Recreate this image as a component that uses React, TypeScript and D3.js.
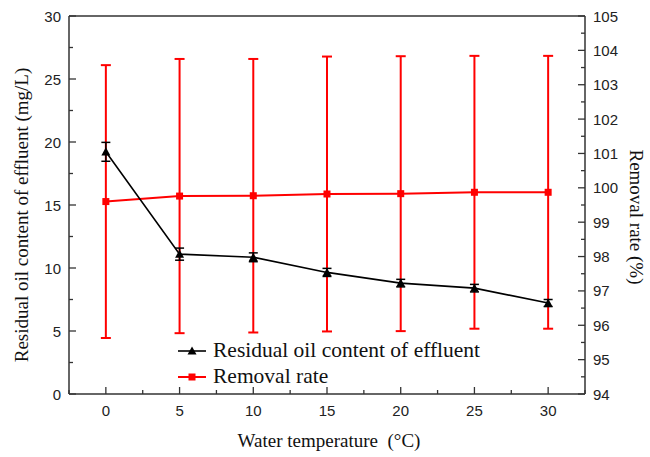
import React from 'react';
import * as d3 from 'd3';

const temperatures = [0, 5, 10, 15, 20, 25, 30];
const residualOil = [19.22, 11.1, 10.85, 9.65, 8.8, 8.4, 7.22];
const residualErr = [0.75, 0.48, 0.35, 0.32, 0.3, 0.3, 0.28];
const removalRate = [99.6, 99.76, 99.77, 99.82, 99.83, 99.87, 99.87];
const removalErr = [3.97, 3.99, 3.98, 4.0, 4.0, 3.97, 3.97];

const xTicks = [0, 5, 10, 15, 20, 25, 30];
const xMinor = [-2.5, 2.5, 7.5, 12.5, 17.5, 22.5, 27.5, 32.5];
const leftTicks = [0, 5, 10, 15, 20, 25, 30];
const leftMinor = [2.5, 7.5, 12.5, 17.5, 22.5, 27.5];
const rightTicks = [94, 95, 96, 97, 98, 99, 100, 101, 102, 103, 104, 105];
const rightMinor = [94.5, 95.5, 96.5, 97.5, 98.5, 99.5, 100.5, 101.5, 102.5, 103.5, 104.5];

const seriesNames = ['Residual oil content of effluent', 'Removal rate'];
const xTitle = 'Water temperature  (°C)';
const leftTitle = 'Residual oil content of effluent (mg/L)';
const rightTitle = 'Removal rate (%)';

const L = 69, R = 585, T = 16, B = 394;
const RED = '#ff0000';
const sans = '"Liberation Sans", Arial, sans-serif';
const serif = '"Liberation Serif", "Times New Roman", serif';

export default function App() {
  const x = d3.scaleLinear().domain([-2.5, 32.5]).range([L, R]);
  const yL = d3.scaleLinear().domain([0, 30]).range([B, T]);
  const yR = d3.scaleLinear().domain([94, 105]).range([B, T]);

  const lineL = d3.line<number>().x((_, i) => x(temperatures[i])).y((d) => yL(d));
  const lineR = d3.line<number>().x((_, i) => x(temperatures[i])).y((d) => yR(d));

  const tri = (cx: number, cy: number, s = 4.5) =>
    `M${cx},${cy - s} L${cx + s},${cy + s * 0.8} L${cx - s},${cy + s * 0.8} Z`;

  return (
    <svg width={650} height={457} style={{ position: 'absolute', left: 0, top: 0, background: '#fff' }}>
      <rect x={0} y={0} width={650} height={457} fill="#fff" />
      {/* red series */}
      <g>
        {removalRate.map((v, i) => {
          const cx = x(temperatures[i]);
          const y1 = yR(v + removalErr[i]);
          const y2 = yR(v - removalErr[i]);
          return (
            <g key={'re' + i} stroke={RED} strokeWidth={2}>
              <line x1={cx} x2={cx} y1={y1} y2={y2} />
              <line x1={cx - 5} x2={cx + 5} y1={y1} y2={y1} />
              <line x1={cx - 5} x2={cx + 5} y1={y2} y2={y2} />
            </g>
          );
        })}
        <path d={lineR(removalRate) || ''} fill="none" stroke={RED} strokeWidth={2} />
        {removalRate.map((v, i) => (
          <rect key={'rm' + i} x={x(temperatures[i]) - 3.5} y={yR(v) - 3.5} width={7} height={7} fill={RED} />
        ))}
      </g>
      {/* black series */}
      <g>
        {residualOil.map((v, i) => {
          const cx = x(temperatures[i]);
          const y1 = yL(v + residualErr[i]);
          const y2 = yL(v - residualErr[i]);
          return (
            <g key={'be' + i} stroke="#000" strokeWidth={1.5}>
              <line x1={cx} x2={cx} y1={y1} y2={y2} />
              <line x1={cx - 4.5} x2={cx + 4.5} y1={y1} y2={y1} />
              <line x1={cx - 4.5} x2={cx + 4.5} y1={y2} y2={y2} />
            </g>
          );
        })}
        <path d={lineL(residualOil) || ''} fill="none" stroke="#000" strokeWidth={1.6} />
        {residualOil.map((v, i) => (
          <path key={'bm' + i} d={tri(x(temperatures[i]), yL(v))} fill="#000" />
        ))}
      </g>
      {/* frame */}
      <g stroke="#333" strokeWidth={1.5} fill="none">
        <line x1={L} x2={R} y1={T} y2={T} />
        <line x1={L} x2={R} y1={B} y2={B} />
        <line x1={L} x2={L} y1={T} y2={B} />
        <line x1={R} x2={R} y1={T} y2={B} />
      </g>
      {/* ticks */}
      <g stroke="#333" strokeWidth={1.3}>
        {xTicks.map((t) => (
          <line key={'xt' + t} x1={x(t)} x2={x(t)} y1={B} y2={B - 7} />
        ))}
        {xMinor.map((t) => (
          <line key={'xm' + t} x1={x(t)} x2={x(t)} y1={B} y2={B - 4} />
        ))}
        {leftTicks.map((t) => (
          <line key={'lt' + t} x1={L} x2={L + 7} y1={yL(t)} y2={yL(t)} />
        ))}
        {leftMinor.map((t) => (
          <line key={'lm' + t} x1={L} x2={L + 4} y1={yL(t)} y2={yL(t)} />
        ))}
        {rightTicks.map((t) => (
          <line key={'rt' + t} x1={R} x2={R - 7} y1={yR(t)} y2={yR(t)} />
        ))}
        {rightMinor.map((t) => (
          <line key={'rm' + t} x1={R} x2={R - 4} y1={yR(t)} y2={yR(t)} />
        ))}
      </g>
      {/* tick labels */}
      <g fontFamily={sans} fontSize={15} fill="#222">
        {xTicks.map((t) => (
          <text key={'xl' + t} x={x(t)} y={B + 22} textAnchor="middle">{t}</text>
        ))}
        {leftTicks.map((t) => (
          <text key={'ll' + t} x={L - 8} y={yL(t) + 5.5} textAnchor="end">{t}</text>
        ))}
        {rightTicks.map((t) => (
          <text key={'rl' + t} x={R + 8} y={yR(t) + 5.5} textAnchor="start">{t}</text>
        ))}
      </g>
      {/* axis titles */}
      <g fontFamily={serif} fontSize={19} fill="#111">
        <text x={329} y={447} textAnchor="middle" style={{ whiteSpace: 'pre' }}>{xTitle}</text>
        <text transform={`translate(28,215) rotate(-90)`} textAnchor="middle">{leftTitle}</text>
        <text transform={`translate(630,217) rotate(90)`} textAnchor="middle">{rightTitle}</text>
      </g>
      {/* legend */}
      <g>
        <line x1={178} x2={206} y1={351} y2={351} stroke="#000" strokeWidth={1.6} />
        <path d={tri(192, 351)} fill="#000" />
        <text x={213} y={356.5} fontFamily={serif} fontSize={21.5} fill="#111">{seriesNames[0]}</text>
        <line x1={178} x2={206} y1={377} y2={377} stroke={RED} strokeWidth={2} />
        <rect x={188.5} y={373.5} width={7} height={7} fill={RED} />
        <text x={213} y={382.5} fontFamily={serif} fontSize={21.5} fill="#111">{seriesNames[1]}</text>
      </g>
    </svg>
  );
}
